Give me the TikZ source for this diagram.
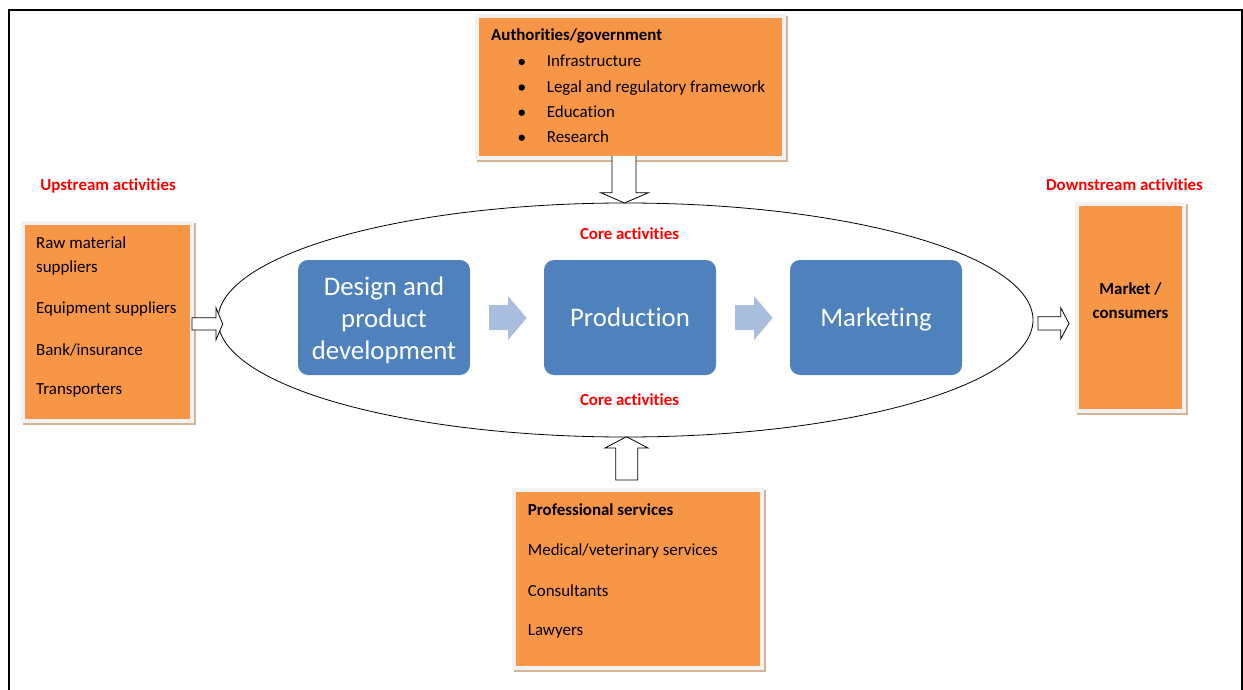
\documentclass[tikz,border=0pt]{standalone}
\usepackage{fontspec}
\setmainfont[Ligatures={NoCommon,NoContextual}]{Carlito}
\usetikzlibrary{shapes.geometric}
\definecolor{orangec}{HTML}{F79646}
\definecolor{bluec}{HTML}{4F81BD}
\definecolor{lbluec}{HTML}{A9BEDC}
\definecolor{tanc}{HTML}{D2B497}
\definecolor{lightc}{HTML}{F2F2F2}
\definecolor{redc}{HTML}{FF0000}
\newcommand\orbox[5]{%
  \fill[tanc] ({#2-2},{#3-2}) rectangle ({#4+6},{#5+6});
  \fill[lightc] ({#2-4},{#3-4}) rectangle ({#4+4},{#5+4});
  \node[obox, minimum width={#4-#2}, minimum height={#5-#3}] (#1) at ({(#2+#4)/2},{(#3+#5)/2}) {};}
\begin{document}
\begin{tikzpicture}[x=1pt,y=-1pt,
  obox/.style={fill=orangec, inner sep=0, draw=none},
  bbox/.style={fill=bluec, rounded corners=10pt, minimum width=172, minimum height=115, inner sep=0},
  btxt/.style={text=white, align=center, inner sep=0, font=\fontsize{26.8}{32}\selectfont},
  txt/.style={anchor=base west, inner sep=0, yshift=-1pt, font=\fontsize{16.9}{20}\selectfont},
  txtc/.style={anchor=base, inner sep=0, yshift=-1pt, font=\fontsize{16.9}{20}\selectfont},
  redlab/.style={anchor=base, inner sep=0, yshift=-1pt, text=redc, font=\fontsize{16.9}{20}\selectfont\bfseries},
  blockarrow/.style={draw=black, fill=white, line width=0.8pt, line join=miter},
  lightarrow/.style={fill=lbluec, draw=none}]
\useasboundingbox (0,0) rectangle (1243,690);
\draw[line width=2pt] (9,10.3) rectangle (1241.7,740);

% ellipse (core)
\node[draw=black, line width=0.8pt, ellipse, minimum width=815, minimum height=234, inner sep=0] (core) at (625.5,320) {};

% orange boxes
\orbox{gov}{479}{18}{782}{156}
\orbox{up}{25}{225}{190}{419}
\orbox{down}{1079}{206}{1182}{409}
\orbox{prof}{516}{492}{760}{666}

% top box text
\node[txt, font=\fontsize{16.9}{20}\selectfont\bfseries] (govt) at (491,40) {Authorities/government};
\foreach \yb/\t/\n in {66/Infrastructure/g1, 91.5/Legal and regulatory framework/g2, 116.7/Education/g3, 141.7/Research/g4}{
  \fill (521.7,{\yb-4}) circle (3.2);
  \node[txt] (\n) at (546.7,\yb) {\t};
}

% left box
\node[redlab] (uplab) at (108,189.3) {Upstream activities};
\node[txt] (u1) at (36,247.3) {Raw material};
\node[txt] (u2) at (36,271.7) {suppliers};
\node[txt] (u3) at (36,312.7) {Equipment suppliers};
\node[txt] (u4) at (36,354) {Bank/insurance};
\node[txt] (u5) at (36,393.3) {Transporters};

% right box
\node[redlab] (downlab) at (1124.5,189.3) {Downstream activities};
\node[txtc, font=\fontsize{16.9}{20}\selectfont\bfseries] (d1) at (1130.5,293.3) {Market /};
\node[txtc, font=\fontsize{16.9}{20}\selectfont\bfseries] (d2) at (1130.5,317.3) {consumers};

% bottom box
\node[txt, font=\fontsize{16.9}{20}\selectfont\bfseries] (p0) at (527.7,514) {Professional services};
\node[txt] (p1) at (527.7,554) {Medical/veterinary services};
\node[txt] (p2) at (527.7,595) {Consultants};
\node[txt] (p3) at (527.7,634.3) {Lawyers};

% core labels
\node[redlab] (coretop) at (629.5,238) {Core activities};
\node[redlab] (corebot) at (629.5,404) {Core activities};

% blue boxes
\node[bbox] (design) at (384,317.5) {};
\node[bbox] (prod) at (630,317.5) {};
\node[bbox] (mkt) at (876,317.5) {};
\node[btxt] (designt) at (384,320.5) {Design and\\product\\development};
\node[btxt, anchor=base] (prodt) at (630,326.7) {Production};
\node[btxt, anchor=base] (mktt) at (876,326.7) {Marketing};

% light blue arrows
\foreach \dx in {0,246}{
  \fill[lbluec] ({489+\dx},305) -- ({508+\dx},305) -- ({508+\dx},296) -- ({526.7+\dx},318) -- ({508+\dx},340) -- ({508+\dx},330) -- ({489+\dx},330) -- cycle;
}

% block arrows
\draw[blockarrow] (612,156) -- (612,192.7) -- (600.7,192.7) -- (624.5,203) -- (648.5,192.7) -- (636,192.7) -- (636,156);
\draw[blockarrow] (615.7,480) -- (615.7,448) -- (605,448) -- (626.5,436.7) -- (648,448) -- (637.7,448) -- (637.7,480) -- cycle;
\draw[blockarrow] (192,317.7) -- (216,317.7) -- (216,307.7) -- (222.7,324) -- (216,340) -- (216,330) -- (192,330) -- cycle;
\draw[blockarrow] (1038,316.7) -- (1060.7,316.7) -- (1060.7,307.7) -- (1069,323.5) -- (1060.7,339) -- (1060.7,330) -- (1038,330) -- cycle;
\end{tikzpicture}
\end{document}
